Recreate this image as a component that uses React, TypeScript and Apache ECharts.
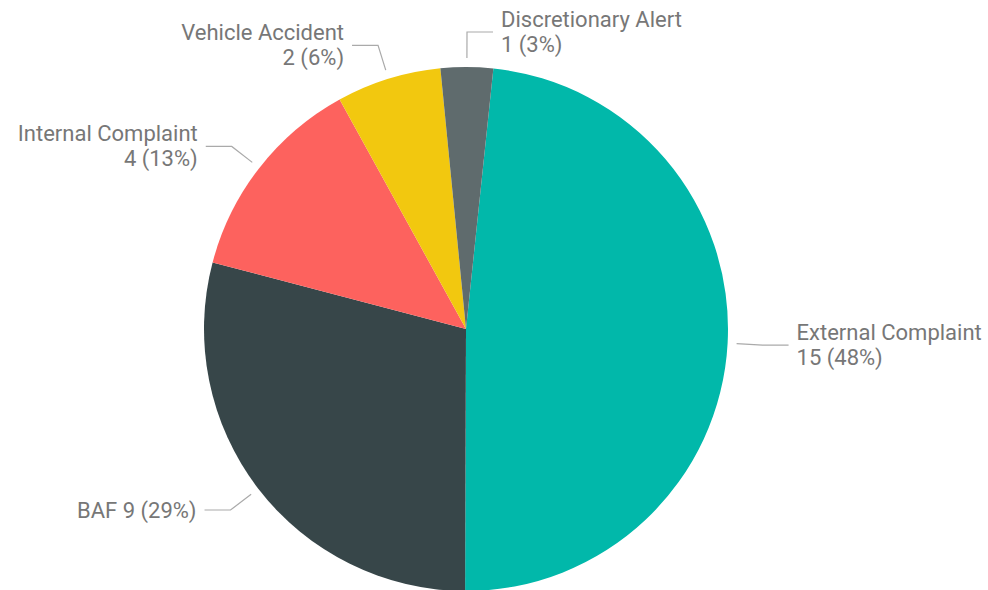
import React, { useEffect, useRef } from "react";
import * as echarts from "echarts";

const categories = ["External Complaint", "BAF", "Internal Complaint", "Vehicle Accident", "Discretionary Alert"];
const values = [15, 9, 4, 2, 1];
const colors = ["#01B8AA", "#374649", "#FD625E", "#F2C80F", "#5F6B6D"];
const singleLineLabels = ["BAF"];

const total = values.reduce((a, b) => a + b, 0);
const pct = (v: number) => Math.round((v / total) * 100);

export default function App() {
  const ref = useRef<HTMLDivElement>(null);
  useEffect(() => {
    document.body.style.margin = "0";
    const chart = echarts.init(ref.current!, null, { renderer: "svg" });
    const data = categories.map((name, i) => ({
      name,
      value: values[i],
      itemStyle: { color: colors[i] },
    }));
    const labelData = categories.map((name, i) => ({
      name,
      value: values[i],
      itemStyle: { color: "rgba(0,0,0,0)" },
    }));
    const common = {
      type: "pie",
      center: [466, 329],
      startAngle: 84,
      clockwise: true,
      avoidLabelOverlap: false,
      emphasis: { disabled: true },
      silent: true,
    };
    chart.setOption({
      animation: false,
      backgroundColor: "#ffffff",
      series: [
        {
          ...common,
          radius: 262,
          data,
          label: { show: false },
          labelLine: { show: false },
        },
        {
          ...common,
          radius: 271,
          data: labelData,
          label: {
            show: true,
            position: "outside",
            formatter: (p: any) =>
              singleLineLabels.includes(p.name)
                ? `${p.name} ${p.value} (${pct(p.value)}%)`
                : `${p.name}\n${p.value} (${pct(p.value)}%)`,
            color: "#777777",
            fontSize: 22,
            lineHeight: 25,
            fontFamily: "Roboto, 'Noto Sans', sans-serif",
            distanceToLabelLine: 8,
          },
          labelLine: {
            show: true,
            length: 26,
            length2: 26,
            lineStyle: { color: "#aaaaaa", width: 1.2 },
          },
        },
      ],
    });
    return () => chart.dispose();
  }, []);
  return <div ref={ref} style={{ width: 988, height: 590 }} />;
}
